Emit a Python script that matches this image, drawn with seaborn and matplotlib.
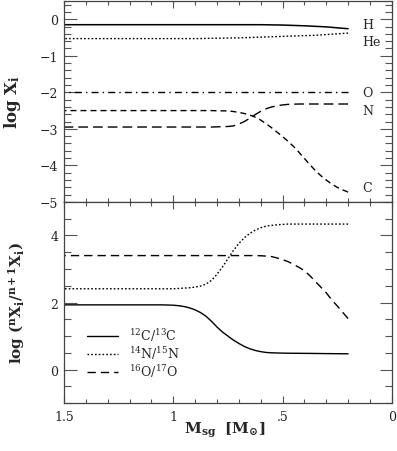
import matplotlib
matplotlib.use('Agg')
import matplotlib.pyplot as plt
from matplotlib.ticker import MultipleLocator
import seaborn as sns
import pandas as pd

# mass grid (M_sun)
mass = [1.5, 1.45, 1.4, 1.35, 1.3, 1.25, 1.2, 1.15, 1.1, 1.05, 1.0,
        0.975, 0.95, 0.925, 0.9, 0.875, 0.85, 0.825, 0.8, 0.775, 0.75, 0.725,
        0.7, 0.675, 0.65, 0.625, 0.6, 0.575, 0.55, 0.525, 0.5, 0.475, 0.45,
        0.425, 0.4, 0.375, 0.35, 0.325, 0.3, 0.275, 0.25, 0.225, 0.2]

# top panel: log X_i
log_H = [-0.15] * 27 + [-0.152, -0.155, -0.157, -0.16, -0.165, -0.17, -0.175,
                        -0.18, -0.187, -0.195, -0.202, -0.21, -0.222, -0.235,
                        -0.248, -0.26]
log_He = [-0.53] * 16 + [-0.525, -0.522, -0.52, -0.517, -0.515, -0.512, -0.51,
                         -0.505, -0.50, -0.495, -0.49, -0.485, -0.48, -0.475,
                         -0.47, -0.465, -0.46, -0.455, -0.45, -0.445, -0.44,
                         -0.43, -0.42, -0.41, -0.40, -0.39, -0.38]
log_O = [-2.0] * 43
log_N = [-2.95] * 18 + [-2.945, -2.94, -2.935, -2.92, -2.87, -2.80, -2.71,
                        -2.61, -2.52, -2.45, -2.40, -2.37, -2.345, -2.33,
                        -2.325] + [-2.32] * 10
log_C = [-2.5] * 18 + [-2.505, -2.507, -2.51, -2.525, -2.55, -2.58, -2.62,
                       -2.68, -2.76, -2.86, -2.97, -3.09, -3.21, -3.34, -3.48,
                       -3.64, -3.81, -3.98, -4.14, -4.28, -4.40, -4.51, -4.60,
                       -4.67, -4.73]
species = ['H', 'He', 'O', 'N', 'C']
species_y = [-0.15, -0.61, -2.0, -2.5, -4.6]

# bottom panel: isotopic ratios
r_C = [1.93] * 10 + [1.92, 1.905, 1.88, 1.84, 1.78, 1.70, 1.59, 1.44, 1.27,
                     1.12, 1.00, 0.88, 0.78, 0.69, 0.62, 0.57, 0.535, 0.51,
                     0.50, 0.495, 0.49, 0.488, 0.486, 0.485, 0.483, 0.482, 0.48,
                     0.478, 0.476, 0.475, 0.473, 0.471, 0.47]
r_N = [2.41] * 11 + [2.42, 2.43, 2.44, 2.46, 2.49, 2.55, 2.66, 2.84, 3.06, 3.30,
                     3.55, 3.76, 3.93, 4.06, 4.16, 4.23, 4.28, 4.30, 4.32,
                     4.33] + [4.34] * 12
r_O = [3.40] * 26 + [3.395, 3.385, 3.37, 3.33, 3.28, 3.22, 3.14, 3.05, 2.95,
                     2.80, 2.63, 2.46, 2.29, 2.08, 1.90, 1.71, 1.52]
ratio_labels = [r'$^{12}$C/$^{13}$C', r'$^{14}$N/$^{15}$N', r'$^{16}$O/$^{17}$O']

sns.set_style('ticks')
plt.rcParams['font.family'] = ['DejaVu Serif']
plt.rcParams['mathtext.fontset'] = 'dejavuserif'

fig = plt.figure(figsize=(3.97, 4.52), dpi=100)
ax1 = fig.add_axes([0.161, 0.551, 0.826, 0.4447])
ax2 = fig.add_axes([0.161, 0.106, 0.826, 0.445], sharex=ax1)

top = pd.DataFrame({'mass': mass, 'H': log_H, 'He': log_He, 'O': log_O,
                    'N': log_N, 'C': log_C})
styles_top = {
    'H': '-',
    'He': (0, (1.2, 1.5)),
    'O': (0, (5, 3, 1, 3)),
    'N': (0, (7, 3.6)),
    'C': (0, (4.3, 2.9)),
}
for sp in species:
    sns.lineplot(data=top, x='mass', y=sp, ax=ax1, color='k',
                 linewidth=1.1 if sp == 'H' else 1.0, linestyle=styles_top[sp])

for sp, yy in zip(species, species_y):
    ax1.text(0.137, yy, sp, fontsize=9, ha='left', va='center')

bot = pd.DataFrame({'mass': mass, 'C': r_C, 'N': r_N, 'O': r_O})
styles_bot = ['-', (0, (1.2, 1.5)), (0, (6, 3.6))]
for col, ls, lab in zip(['C', 'N', 'O'], styles_bot, ratio_labels):
    sns.lineplot(data=bot, x='mass', y=col, ax=ax2, color='k', linewidth=1.0,
                 linestyle=ls, label=lab)

ax2.legend(loc='center left', bbox_to_anchor=(0.07, 0.25), frameon=False,
           fontsize=9, handlelength=2.5, handletextpad=0.9, labelspacing=0.08,
           borderpad=0, borderaxespad=0)

ax1.set_xlim(1.5, 0)
ax1.set_ylim(-5, 0.5)
ax2.set_ylim(-1, 5)

ax2.set_xticks([1.5, 1.0, 0.5, 0.0], labels=['1.5', '1', '.5', '0'])
for ax in (ax1, ax2):
    ax.xaxis.set_minor_locator(MultipleLocator(0.1))
    ax.tick_params(which='both', direction='in', top=True, right=True,
                   labelsize=9, color='#555555', width=0.8)
    ax.tick_params(axis='y', which='major', length=9, pad=4)
    ax.tick_params(axis='y', which='minor', length=5)
    ax.tick_params(axis='x', which='major', length=5, pad=5)
    ax.tick_params(axis='x', which='minor', length=3)
    for s in ax.spines.values():
        s.set_linewidth(0.9)
        s.set_color('#444444')
ax1.tick_params(axis='x', labelbottom=False)
ax1.yaxis.set_major_locator(MultipleLocator(1))
ax1.yaxis.set_minor_locator(MultipleLocator(0.2))
ax2.yaxis.set_major_locator(MultipleLocator(2))
ax2.yaxis.set_minor_locator(MultipleLocator(0.5))
ax2.set_yticks([0, 2, 4])

ax1.set_xlabel('')
ax1.set_ylabel(r'$\mathbf{log\ X_{i}}$', fontsize=12)
ax2.set_ylabel(r'$\mathbf{log\ ({}^{n}X_{i}/{}^{n+1}X_{i})}$', fontsize=11)
ax2.set_xlabel(r'$\mathbf{M_{sg}\ \ [M_{\odot}]}$', fontsize=11)
ax1.yaxis.set_label_coords(-0.125, 0.5)
ax2.yaxis.set_label_coords(-0.113, 0.5)
ax2.xaxis.set_label_coords(0.49, -0.085)

fig.savefig('out.png', dpi=100)
